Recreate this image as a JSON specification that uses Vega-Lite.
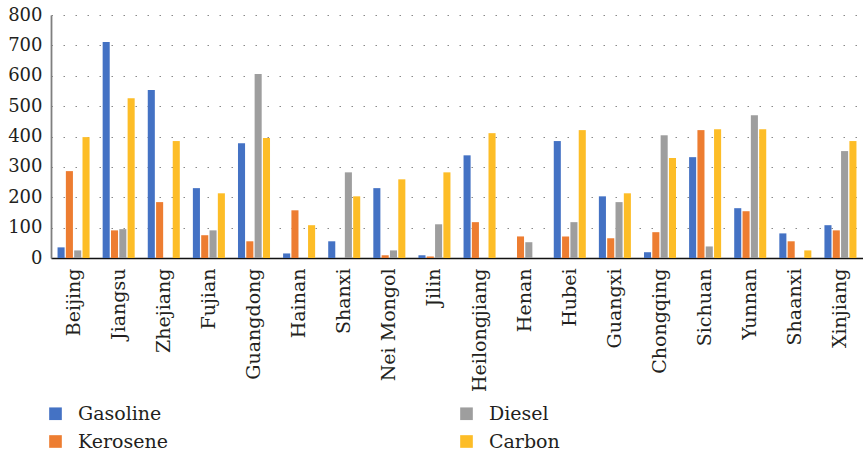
{
  "$schema": "https://vega.github.io/schema/vega-lite/v6.json",
  "autosize": "none",
  "padding": {"left": 51, "top": 15, "right": 0, "bottom": 193},
  "width": 812,
  "height": 243,
  "background": "white",
  "config": {
    "view": {"stroke": null},
    "font": "DejaVu Serif",
    "axis": {"labelFont": "DejaVu Serif", "labelColor": "#231f20"},
    "legend": {"labelFont": "DejaVu Serif", "labelColor": "#231f20"}
  },
  "data": {
    "values": [
      {"province": "Beijing", "fuel": "Gasoline", "value": 35},
      {"province": "Beijing", "fuel": "Kerosene", "value": 286},
      {"province": "Beijing", "fuel": "Diesel", "value": 25},
      {"province": "Beijing", "fuel": "Carbon", "value": 398},
      {"province": "Jiangsu", "fuel": "Gasoline", "value": 711},
      {"province": "Jiangsu", "fuel": "Kerosene", "value": 91},
      {"province": "Jiangsu", "fuel": "Diesel", "value": 95},
      {"province": "Jiangsu", "fuel": "Carbon", "value": 526},
      {"province": "Zhejiang", "fuel": "Gasoline", "value": 553},
      {"province": "Zhejiang", "fuel": "Kerosene", "value": 184},
      {"province": "Zhejiang", "fuel": "Diesel", "value": 0},
      {"province": "Zhejiang", "fuel": "Carbon", "value": 385},
      {"province": "Fujian", "fuel": "Gasoline", "value": 230},
      {"province": "Fujian", "fuel": "Kerosene", "value": 75},
      {"province": "Fujian", "fuel": "Diesel", "value": 91},
      {"province": "Fujian", "fuel": "Carbon", "value": 213},
      {"province": "Guangdong", "fuel": "Gasoline", "value": 378},
      {"province": "Guangdong", "fuel": "Kerosene", "value": 55},
      {"province": "Guangdong", "fuel": "Diesel", "value": 606},
      {"province": "Guangdong", "fuel": "Carbon", "value": 395},
      {"province": "Hainan", "fuel": "Gasoline", "value": 15},
      {"province": "Hainan", "fuel": "Kerosene", "value": 157},
      {"province": "Hainan", "fuel": "Diesel", "value": 0},
      {"province": "Hainan", "fuel": "Carbon", "value": 108},
      {"province": "Shanxi", "fuel": "Gasoline", "value": 55},
      {"province": "Shanxi", "fuel": "Kerosene", "value": 0},
      {"province": "Shanxi", "fuel": "Diesel", "value": 282},
      {"province": "Shanxi", "fuel": "Carbon", "value": 203},
      {"province": "Nei Mongol", "fuel": "Gasoline", "value": 230},
      {"province": "Nei Mongol", "fuel": "Kerosene", "value": 9},
      {"province": "Nei Mongol", "fuel": "Diesel", "value": 25},
      {"province": "Nei Mongol", "fuel": "Carbon", "value": 259},
      {"province": "Jilin", "fuel": "Gasoline", "value": 9},
      {"province": "Jilin", "fuel": "Kerosene", "value": 5},
      {"province": "Jilin", "fuel": "Diesel", "value": 111},
      {"province": "Jilin", "fuel": "Carbon", "value": 282},
      {"province": "Heilongjiang", "fuel": "Gasoline", "value": 338},
      {"province": "Heilongjiang", "fuel": "Kerosene", "value": 118},
      {"province": "Heilongjiang", "fuel": "Diesel", "value": 0},
      {"province": "Heilongjiang", "fuel": "Carbon", "value": 411},
      {"province": "Henan", "fuel": "Gasoline", "value": 0},
      {"province": "Henan", "fuel": "Kerosene", "value": 71},
      {"province": "Henan", "fuel": "Diesel", "value": 52},
      {"province": "Henan", "fuel": "Carbon", "value": 0},
      {"province": "Hubei", "fuel": "Gasoline", "value": 385},
      {"province": "Hubei", "fuel": "Kerosene", "value": 71},
      {"province": "Hubei", "fuel": "Diesel", "value": 118},
      {"province": "Hubei", "fuel": "Carbon", "value": 421},
      {"province": "Guangxi", "fuel": "Gasoline", "value": 203},
      {"province": "Guangxi", "fuel": "Kerosene", "value": 65},
      {"province": "Guangxi", "fuel": "Diesel", "value": 184},
      {"province": "Guangxi", "fuel": "Carbon", "value": 213},
      {"province": "Chongqing", "fuel": "Gasoline", "value": 19},
      {"province": "Chongqing", "fuel": "Kerosene", "value": 85},
      {"province": "Chongqing", "fuel": "Diesel", "value": 404},
      {"province": "Chongqing", "fuel": "Carbon", "value": 329},
      {"province": "Sichuan", "fuel": "Gasoline", "value": 332},
      {"province": "Sichuan", "fuel": "Kerosene", "value": 421},
      {"province": "Sichuan", "fuel": "Diesel", "value": 38},
      {"province": "Sichuan", "fuel": "Carbon", "value": 424},
      {"province": "Yunnan", "fuel": "Gasoline", "value": 164},
      {"province": "Yunnan", "fuel": "Kerosene", "value": 154},
      {"province": "Yunnan", "fuel": "Diesel", "value": 470},
      {"province": "Yunnan", "fuel": "Carbon", "value": 424},
      {"province": "Shaanxi", "fuel": "Gasoline", "value": 81},
      {"province": "Shaanxi", "fuel": "Kerosene", "value": 55},
      {"province": "Shaanxi", "fuel": "Diesel", "value": 0},
      {"province": "Shaanxi", "fuel": "Carbon", "value": 25},
      {"province": "Xinjiang", "fuel": "Gasoline", "value": 108},
      {"province": "Xinjiang", "fuel": "Kerosene", "value": 91},
      {"province": "Xinjiang", "fuel": "Diesel", "value": 352},
      {"province": "Xinjiang", "fuel": "Carbon", "value": 385}
    ]
  },
  "mark": {"type": "bar"},
  "encoding": {
    "x": {
      "field": "province",
      "type": "nominal",
      "sort": null,
      "scale": {"paddingInner": 0.29, "paddingOuter": 0.145},
      "axis": {
        "title": null,
        "labelAngle": -90,
        "labelFontSize": 19,
        "labelPadding": 10,
        "ticks": false,
        "domainColor": "#111111",
        "domainWidth": 1.6,
        "grid": false
      }
    },
    "xOffset": {
      "field": "fuel",
      "type": "nominal",
      "sort": ["Gasoline", "Kerosene", "Diesel", "Carbon"],
      "scale": {"paddingInner": 0.15}
    },
    "y": {
      "field": "value",
      "type": "quantitative",
      "scale": {"domain": [0, 800], "nice": false},
      "axis": {
        "title": null,
        "values": [0, 100, 200, 300, 400, 500, 600, 700, 800],
        "labelFontSize": 18,
        "labelPadding": 9,
        "ticks": false,
        "domainColor": "#7f7f7f",
        "domainWidth": 1.8,
        "grid": true,
        "gridColor": "#8a8a8a",
        "gridWidth": 1.2,
        "gridDash": [1.5, 10.5]
      }
    },
    "color": {
      "field": "fuel",
      "type": "nominal",
      "scale": {
        "domain": ["Gasoline", "Diesel", "Kerosene", "Carbon"],
        "range": ["#4472c4", "#9e9e9e", "#ed7d31", "#fdbd27"]
      },
      "legend": {
        "title": null,
        "orient": "none",
        "legendX": -5,
        "legendY": 389,
        "direction": "horizontal",
        "columns": 2,
        "columnPadding": 289,
        "rowPadding": 8,
        "padding": 0,
        "symbolType": "square",
        "symbolSize": 160,
        "symbolStrokeWidth": 0,
        "symbolOpacity": 1,
        "labelFontSize": 19,
        "labelOffset": 13,
        "labelLimit": 200
      }
    }
  }
}
